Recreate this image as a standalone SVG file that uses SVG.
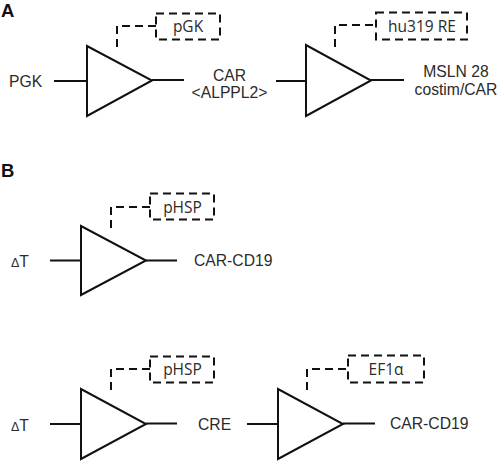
<svg xmlns="http://www.w3.org/2000/svg" width="498" height="462" viewBox="0 0 498 462">
<style>
text{font-family:"Liberation Sans",Arial,sans-serif;font-size:15.700px;fill:#2b2b2b}
.m{text-anchor:middle}
.h{font-weight:bold;font-size:18.500px;fill:#111}
.dl{font-size:12.500px}
.p{font-family:"Open Sans","Noto Sans",sans-serif;font-size:15.500px;text-anchor:middle}
.t{fill:#fff;stroke:#111;stroke-width:2}
.w{fill:none;stroke:#111;stroke-width:2}
.d{fill:none;stroke:#111;stroke-width:2;stroke-dasharray:8 5}
</style>
<rect width="498" height="462" fill="#fff"/>
<g id="labels"><text class="h" x="1" y="17">A</text><text class="h" x="1" y="177">B</text></g>
<g id="connectors">
<path class="w" d="M54 81H87M152 80H184M276 81H306M371 80H404M50 260.500H81M146 260.500H177M50 424H81M146 423.500H177M247 424H278M343 423.500H375"/>
<path class="d" d="M117 47V26H156M335 47V25H377M111 228V207H150M111 390V369H150M307 390V369H348"/>
</g>
<g id="n1"><path class="t" d="M87 46V116L152 80.500Z"/><text x="9" y="87">PGK</text></g>
<g id="n2"><rect class="d" x="156" y="13.500" width="64" height="26"/><text class="p" x="188" y="32">pGK</text></g>
<g id="n3"><text class="m" x="229.500" y="81">CAR</text><text class="m" x="229.500" y="98">&lt;ALPPL2&gt;</text></g>
<g id="n4"><path class="t" d="M306 45V116L371 80.500Z"/></g>
<g id="n5"><rect class="d" x="376" y="12.500" width="91" height="27"/><text class="p" x="422" y="32">hu319 RE</text></g>
<g id="n6"><text class="m" x="456" y="77">MSLN 28</text><text class="m" x="456" y="95">costim/CAR</text></g>
<g id="n7"><path class="t" d="M81 226V295L146 260.500Z"/><text x="11" y="267"><tspan class="dl">Δ</tspan>T</text></g>
<g id="n8"><rect class="d" x="150" y="193.500" width="64" height="26"/><text class="p" x="182.500" y="213">pHSP</text></g>
<g id="n9"><text x="194" y="266">CAR-CD19</text></g>
<g id="n10"><path class="t" d="M81 389V459L146 424Z"/><text x="11" y="431"><tspan class="dl">Δ</tspan>T</text></g>
<g id="n11"><rect class="d" x="150" y="356.500" width="64" height="26"/><text class="p" x="182.500" y="375">pHSP</text></g>
<g id="n12"><text x="198" y="430">CRE</text></g>
<g id="n13"><path class="t" d="M278 389V459L343 424Z"/></g>
<g id="n14"><rect class="d" x="348" y="355.500" width="76" height="27"/><text class="p" x="386" y="375">EF1α</text></g>
<g id="n15"><text x="390" y="429">CAR-CD19</text></g>
</svg>
